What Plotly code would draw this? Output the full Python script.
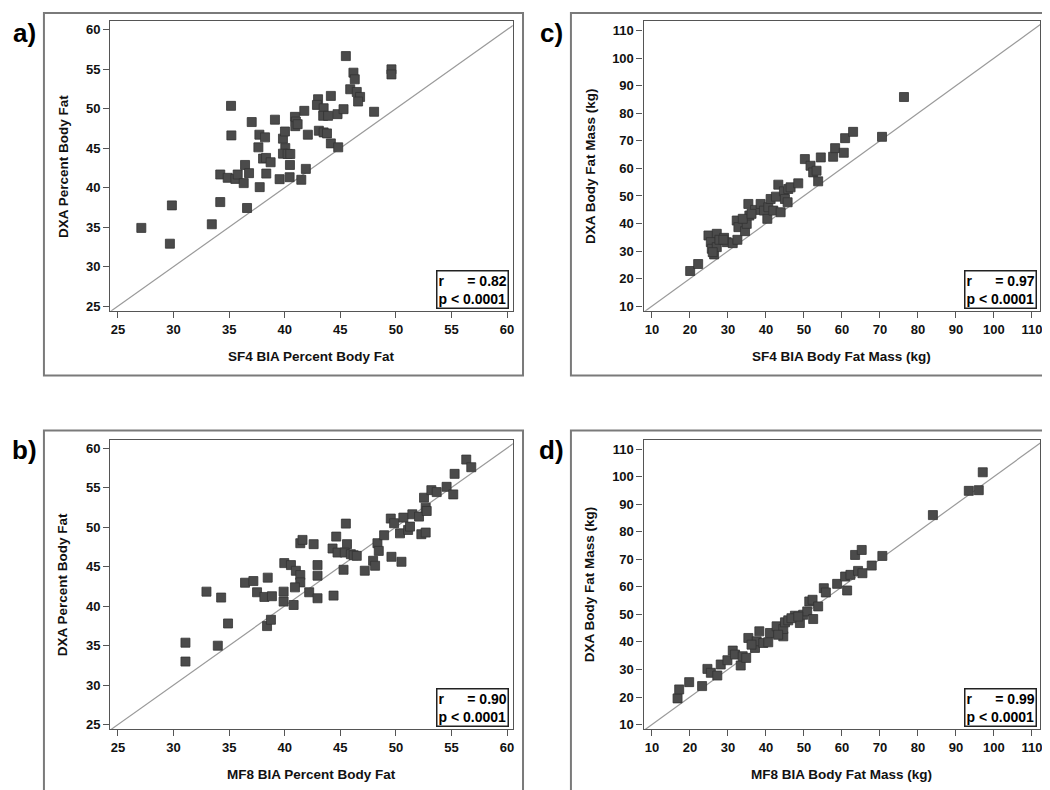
import plotly.graph_objects as go

# ---------------- data ----------------
a_x = [27.1, 29.85, 29.67, 33.44, 34.2, 35.17, 35.2, 34.2, 34.87, 35.56, 35.77, 36.43, 36.31, 36.79, 36.61,
       37.03, 37.75, 37.63, 37.72, 38.23, 38.05, 38.32, 38.73, 38.34, 39.12, 39.54, 39.84, 40.02, 40.05, 39.84,
       40.26, 40.5, 40.47, 40.44, 40.92, 41.0, 40.95, 41.16, 41.76, 41.49, 41.9, 42.08, 43.0, 42.9, 43.07,
       43.5, 43.5, 43.8, 43.46, 43.9, 44.15, 44.15, 44.81, 44.75, 45.29, 45.5, 46.18, 46.3, 45.89, 46.48,
       46.78, 46.6, 48.04, 49.6, 49.6]
a_y = [34.9, 37.75, 32.9, 35.36, 38.17, 50.35, 46.61, 41.66, 41.24, 41.1, 41.66, 42.87, 40.57, 41.83, 37.42,
       48.3, 40.06, 45.1, 46.7, 46.36, 43.67, 43.76, 43.21, 41.78, 48.6, 41.07, 46.2, 47.1, 45.0, 44.3,
       44.26, 44.26, 42.87, 41.32, 48.96, 48.37, 47.78, 48.03, 49.72, 40.99, 42.37, 46.7, 51.19, 50.47, 47.2,
       50.05, 46.99, 46.86, 49.09, 49.09, 51.61, 45.6, 45.1, 49.3, 49.93, 56.65, 54.55, 53.71, 52.45, 52.11,
       51.48, 50.9, 49.6, 54.97, 54.33]

c_x = [20.06, 22.16, 24.87, 27.06, 25.49, 25.75, 26.36, 27.06, 27.76, 28.98, 29.69, 31.26, 32.48, 32.31,
       32.75, 34.5, 34.94, 35.63, 35.37, 37.12, 38.6, 39.48, 40.36, 40.62, 41.23, 42.63, 41.93, 43.25, 43.86,
       44.73, 45.0, 45.87, 45.7, 46.48, 48.5, 50.24, 51.73, 52.43, 53.31, 53.74, 54.44, 57.68, 58.2, 60.48,
       60.83, 62.93, 70.54, 76.32, 26.0, 28.8, 33.9, 36.2]
c_y = [22.76, 25.29, 35.65, 36.26, 33.24, 30.83, 28.78, 31.43, 34.08, 34.8, 33.24, 32.87, 34.08, 41.08,
       38.67, 37.22, 39.87, 42.88, 47.1, 44.93, 47.1, 44.69, 41.68, 45.9, 48.9, 49.75, 44.69, 54.09, 44.08,
       51.68, 48.9, 52.52, 47.7, 53.13, 54.57, 63.37, 60.96, 58.55, 59.15, 55.3, 63.98, 64.22, 67.35, 65.67,
       70.97, 73.26, 71.45, 85.9, 29.6, 34.1, 41.7, 43.5]

b_x = [31.07, 31.07, 32.96, 34.28, 33.98, 34.9, 36.43, 37.18, 37.51, 38.17, 38.47, 38.85, 38.41, 38.76,
       39.9, 39.9, 40.8, 39.96, 40.56, 41.0, 41.4, 41.4, 40.92, 42.2, 42.95, 42.95, 42.95, 41.4, 41.6, 42.6,
       44.39, 44.3, 44.63, 45.5, 44.75, 45.6, 45.4, 45.95, 46.2, 45.29, 47.2, 47.95, 48.13, 48.34, 48.46,
       48.94, 49.6, 50.5, 49.54, 49.84, 50.67, 50.37, 51.1, 51.27, 51.48, 52.08, 52.68, 52.77, 52.29, 52.68,
       52.53, 53.19, 53.67, 54.56, 55.16, 55.28, 56.33, 56.78, 46.48]
b_y = [35.36, 32.97, 41.82, 41.07, 34.98, 37.79, 42.95, 43.16, 41.74, 41.15, 43.59, 41.24, 37.46, 38.26,
       41.82, 40.56, 40.13, 45.43, 45.18, 44.46, 43.92, 42.99, 42.36, 41.74, 40.98, 45.18, 43.84, 47.95,
       48.37, 47.83, 41.32, 47.28, 48.79, 50.43, 46.77, 47.83, 46.77, 46.56, 46.43, 44.59, 44.47, 45.73,
       45.1, 47.95, 46.98, 48.96, 46.23, 45.6, 51.07, 50.48, 51.19, 49.2, 49.63, 50.05, 51.61, 51.32, 52.45,
       52.03, 49.09, 49.3, 53.71, 54.67, 54.42, 55.09, 54.13, 56.73, 58.54, 57.57, 46.35]

d_x = [16.74, 17.17, 19.8, 23.2, 24.6, 25.5, 27.2, 28.1, 29.86, 31.26, 31.87, 33.36, 33.88, 35.37, 37.12,
       38.26, 37.56, 39.3, 40.6, 41.06, 42.8, 44.56, 44.56, 45.0, 45.87, 47.62, 48.93, 49.8, 50.86, 51.4,
       52.26, 53.74, 52.43, 55.23, 55.76, 58.73, 61.36, 60.83, 62.23, 64.24, 65.38, 63.46, 65.2, 67.83,
       70.63, 83.93, 93.38, 96.0, 97.05, 34.8, 36.2, 43.2, 46.7, 48.5]
d_y = [19.5, 22.75, 25.4, 23.96, 30.2, 28.78, 27.8, 31.8, 33.35, 36.85, 35.4, 31.43, 34.8, 41.43, 37.82,
       43.84, 40.22, 39.62, 39.86, 43.24, 45.65, 42.03, 44.68, 47.1, 47.82, 49.5, 46.85, 49.86, 51.07, 54.68,
       55.29, 52.88, 48.3, 59.5, 57.94, 61.07, 58.66, 63.72, 64.33, 65.77, 64.93, 71.56, 73.37, 67.7, 71.2,
       86.02, 94.82, 95.06, 101.56, 34.2, 39.0, 42.6, 48.6, 49.2]

pct_ticks = [25, 30, 35, 40, 45, 50, 55, 60]
kg_ticks = [10, 20, 30, 40, 50, 60, 70, 80, 90, 100, 110]

panels = [
    dict(key="a", x=a_x, y=a_y, r="0.82", xt="SF4 BIA Percent Body Fat", yt="DXA Percent Body Fat",
         ticks=pct_ticks, xr=[24.31, 60.51], yr=[24.4, 61.06], px=(102.5, 505.7), py=(13.3, 304), ox=0, oy=0),
    dict(key="c", x=c_x, y=c_y, r="0.97", xt="SF4 BIA Body Fat Mass (kg)", yt="DXA Body Fat Mass (kg)",
         ticks=kg_ticks, xr=[7.8, 112.2], yr=[8.3, 113.4], px=(636.8, 1034.3), py=(13.3, 304), ox=528, oy=0),
    dict(key="b", x=b_x, y=b_y, r="0.90", xt="MF8 BIA Percent Body Fat", yt="DXA Percent Body Fat",
         ticks=pct_ticks, xr=[24.31, 60.51], yr=[24.4, 61.06], px=(102.5, 505.7), py=(433.3, 724), ox=0, oy=419),
    dict(key="d", x=d_x, y=d_y, r="0.99", xt="MF8 BIA Body Fat Mass (kg)", yt="DXA Body Fat Mass (kg)",
         ticks=kg_ticks, xr=[7.8, 112.2], yr=[8.3, 113.4], px=(636.8, 1034.3), py=(433.3, 724), ox=528, oy=419),
]

W, H = 1050, 790
FONT = "Liberation Sans, Arial, sans-serif"
AXC = "#555555"


def fx(p):
    return p / W


def fy(p):
    return 1 - p / H


fig = go.Figure()
shapes = []
annotations = []

for i, p in enumerate(panels):
    n = i + 1
    xa = "x" if n == 1 else f"x{n}"
    ya = "y" if n == 1 else f"y{n}"
    lo = min(p["xr"][0], p["yr"][0])
    hi = max(p["xr"][1], p["yr"][1])
    # identity line
    fig.add_trace(go.Scatter(x=[lo, hi], y=[lo, hi], mode="lines", line=dict(color="#9a9a9a", width=1.2),
                             xaxis=xa, yaxis=ya, showlegend=False, hoverinfo="skip"))
    fig.add_trace(go.Scatter(x=p["x"], y=p["y"], mode="markers",
                             marker=dict(symbol="square", size=9, color="#4b4b4b",
                                         line=dict(color="#333333", width=0.8)),
                             xaxis=xa, yaxis=ya, showlegend=False))
    axcommon = dict(showgrid=False, zeroline=False, showline=True, mirror=True, linecolor=AXC, linewidth=1.3,
                    ticks="outside", ticklen=6, tickwidth=1.3, tickcolor=AXC,
                    tickfont=dict(family=FONT, size=13, color="#111111", weight="bold"),
                    tickvals=p["ticks"], fixedrange=True)
    x0, x1 = p["px"]
    y0, y1 = p["py"]
    fig.update_layout(**{
        ("xaxis" if n == 1 else f"xaxis{n}"): dict(axcommon, domain=[fx(x0), fx(x1)], range=p["xr"],
                                                    anchor=ya),
        ("yaxis" if n == 1 else f"yaxis{n}"): dict(axcommon, domain=[fy(y1), fy(y0)], range=p["yr"],
                                                    anchor=xa),
    })
    ox, oy = p["ox"], p["oy"]
    # outer frame
    shapes.append(dict(type="rect", xref="paper", yref="paper", x0=fx(36 + ox), x1=fx(516 + ox),
                       y0=fy(369 + oy), y1=fy(5 + oy), line=dict(color="#7a7a7a", width=2)))
    # panel letter
    annotations.append(dict(xref="paper", yref="paper", x=fx(17 + ox), y=fy(25 + oy), text=f"{p['key']})",
                            showarrow=False, xanchor="center", yanchor="middle",
                            font=dict(family=FONT, size=26, color="#000000", weight="bold")))
    # axis titles
    annotations.append(dict(xref="paper", yref="paper", x=fx((x0 + x1) / 2), y=fy(350 + oy), text=p["xt"],
                            showarrow=False, xanchor="center", yanchor="middle",
                            font=dict(family=FONT, size=13.5, color="#111111", weight="bold")))
    annotations.append(dict(xref="paper", yref="paper", x=fx(55 + ox), y=fy((y0 + y1) / 2), text=p["yt"],
                            showarrow=False, xanchor="center", yanchor="middle", textangle=-90,
                            font=dict(family=FONT, size=13.5, color="#111111", weight="bold")))
    # statistics box
    nb = "\u00a0"
    annotations.append(dict(xref="paper", yref="paper", x=fx(x1 - 3.5), y=fy(y1 - 2), xanchor="right",
                            yanchor="bottom", showarrow=False, align="left",
                            text=f"r{nb * 6}= {p['r']}<br>p < 0.0001",
                            bgcolor="white", bordercolor="#222222", borderwidth=1.5, borderpad=1,
                            font=dict(family=FONT, size=14, color="#000000", weight="bold")))

fig.update_layout(width=W, height=H, margin=dict(l=0, r=0, t=0, b=0),
                  paper_bgcolor="white", plot_bgcolor="white",
                  shapes=shapes, annotations=annotations, showlegend=False)

fig.write_html("out.html")
